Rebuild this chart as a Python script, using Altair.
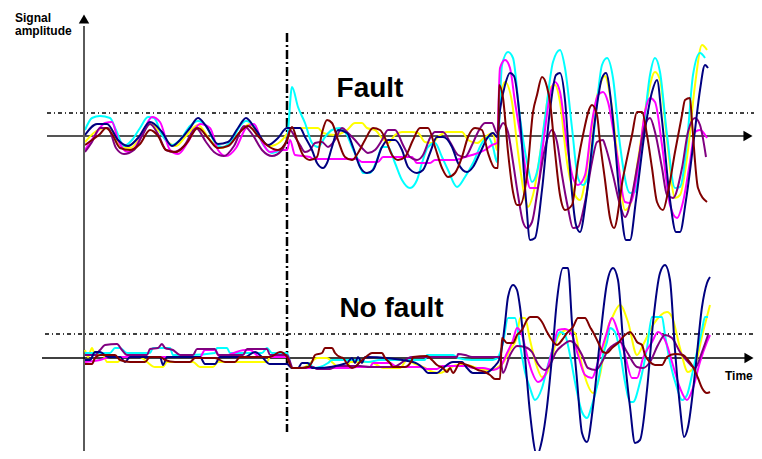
import altair as alt
import pandas as pd

# ---------------- data ----------------
series_names = ["yellow", "cyan", "magenta", "purple", "navy", "maroon"]
series_colors = ["#FFFF00", "#00FFFF", "#FF00FF", "#800080", "#000080", "#800000"]

# (time, amplitude) vertices, FAULT case
fault_navy = [(1,1),(13,12),(23,12),(34,-4),(44,-10),(54,-2),(66,14),(78,4),(88,-10),(96,-4),(106,8),(114,18),(122,10),(134,-8),(144,-6),(154,8),(162,18),(172,6),(184,-9),(194,-2),(203,8),
 (211,8),(216,8),(221,-1),(228,-14),(233,-27),(239,-32),(243,-27),(248,-11),(254,6),(263,3),(269,-11),(276,-31),(283,-37),(289,-34),(298,-11),(304,-4),(311,-4),(318,-14),(324,-31),(333,-37),(339,-34),(346,-17),(353,-1),(359,-1),(368,-11),(374,-27),(383,-36),(389,-31),(396,-17),(404,-1),(409,3),
 (413,-1),(416,26),(421,51),(426,63),(430,60),(436,16),(442,-64),(446,-104),(451,-102),(458,-54),(466,26),(472,61),(476,63),(481,36),(486,-34),(492,-89),(496,-96),(502,-64),(511,16),(518,58),(522,63),(528,26),(536,-64),(542,-104),(546,-104),(552,-64),(561,6),(568,44),(573,56),(578,16),(586,-64),(592,-96),(596,-96),(602,-64),(611,6),(616,46),(621,71),(624,68)]
fault_cyan = [(1,6),(8,18),(16,20),(26,18),(32,6),(40,-10),(48,-4),(56,8),(64,19),(70,18),(78,1),(88,-9),(96,-4),(106,10),(114,15),(122,10),(132,-8),(138,-11),(148,-4),(156,10),(162,15),(170,10),(180,-10),(188,-17),(196,-14),(203,-4),
 (208,49),(214,29),(221,13),(228,-7),(234,-11),(241,-1),(248,6),(256,8),(263,1),(268,-11),(274,-24),(279,-37),(286,-37),(293,-24),(298,-11),(304,-11),(311,-27),(318,-44),(326,-52),(333,-44),(338,-27),(344,-11),(351,-7),(358,-21),(364,-34),(373,-51),(381,-41),(389,-27),(398,-7),(404,-1),(409,-11),(413,-26),
 (418,71),(424,84),(429,78),(436,18),(443,-26),(448,-46),(453,-36),(461,18),(469,74),(476,86),(481,68),(488,8),(494,-42),(499,-49),(506,-32),(513,34),(518,71),(523,78),(529,58),(536,-9),(546,-57),(551,-56),(559,1),(566,61),(571,78),(576,64),(583,1),(591,-52),(596,-51),(603,-6),(609,61),(616,83),(621,78)]
fault_yellow = [(1,-6),(11,4),(21,8),(28,6),(36,-10),(46,-12),(56,-2),(66,12),(74,6),(84,-6),(92,-10),(102,0),(114,11),(126,-4),(136,-12),(146,-8),(156,4),(166,12),(176,-2),(186,-10),(196,-6),(203,2),
 (208,8),(218,8),(234,8),(239,3),(251,1),(263,6),(271,13),(278,13),(283,8),(291,6),(298,-2),(304,-7),(311,1),(318,4),(328,4),(334,3),(341,-6),(348,-7),(354,-1),(363,4),(378,4),(384,-4),(393,-7),(401,-1),(409,3),(413,-14),
 (416,34),(421,54),(428,34),(434,-16),(441,-62),(444,-71),(449,-59),(458,-6),(466,48),(471,51),(476,34),(483,-26),(491,-59),(496,-64),(501,-46),(509,18),(516,51),(521,60),(526,41),(534,-24),(541,-74),(546,-69),(554,-24),(563,36),(571,64),(576,56),(583,-4),(591,-62),(596,-59),(604,-14),(611,51),(618,91),(623,86)]
fault_magenta = [(1,-14),(11,1),(21,13),(28,14),(34,-4),(44,-16),(52,-10),(60,6),(68,19),(76,14),(86,-14),(94,-18),(104,-6),(116,12),(126,8),(134,-14),(142,-20),(152,-12),(162,8),(170,12),(178,-6),(186,-16),(196,-14),(203,-14),
 (206,-4),(211,-19),(226,-21),(229,-23),(273,-23),(278,-26),(294,-26),(299,-21),(328,-21),(333,-27),(346,-27),(351,-24),(371,-24),(381,-21),(388,-19),(401,-14),(408,-9),(413,-7),
 (416,68),(421,76),(426,68),(431,34),(438,-9),(443,-42),(446,-52),(453,-52),(459,-9),(466,41),(471,54),(476,44),(483,-9),(489,-42),(494,-49),(501,-39),(508,14),(514,41),(519,44),(524,34),(533,-19),(541,-66),(546,-67),(553,-39),(561,24),(566,38),(571,34),(578,-9),(586,-69),(593,-82),(599,-66),(606,-26),(611,4),(616,6),(623,-2)]
fault_purple = [(1,-16),(8,-6),(16,8),(24,8),(32,-12),(40,-18),(50,-14),(58,0),(66,12),(74,2),(82,-14),(90,-16),(100,-10),(112,8),(122,-6),(130,-16),(140,-20),(150,-10),(160,10),(168,2),(178,-14),(188,-20),(198,-14),(203,-4),
 (206,6),(211,-1),(216,-9),(221,-16),(226,-14),(231,-7),(238,-6),(244,-11),(251,-4),(258,8),(264,3),(271,-4),(278,-12),(284,-17),(291,-14),(298,-4),(304,6),(311,6),(319,-9),(326,-21),(333,-24),(339,-19),(346,-2),(351,4),(359,4),(366,-6),(374,-19),(381,-21),(388,-9),(394,4),(401,13),(408,13),(413,3),
 (416,8),(419,13),(424,4),(429,-26),(434,-59),(439,-86),(443,-92),(448,-86),(454,-52),(461,-12),(468,6),(473,-6),(478,-39),(484,-72),(489,-92),(494,-91),(501,-66),(508,-26),(513,-6),(519,-4),(521,-9),(529,-39),(536,-69),(541,-81),(548,-59),(554,-26),(561,11),(566,18),(571,4),(578,-32),(583,-59),(589,-62),(598,-32),(604,4),(611,18),(616,11),(622,-21)]
fault_maroon = [(1,-9),(8,-4),(16,2),(22,8),(28,2),(36,-12),(46,-14),(56,-8),(66,6),(74,0),(82,-14),(92,-16),(102,-8),(114,8),(124,-2),(134,-12),(144,-10),(156,4),(164,10),(174,0),(184,-10),(194,-14),(203,-4),
 (208,9),(213,-4),(219,-19),(226,-24),(233,-21),(238,3),(243,16),(248,13),(254,-4),(261,-21),(268,-24),(274,-17),(281,-4),(289,8),(296,6),(301,-2),(308,-19),(314,-24),(321,-21),(329,-4),(336,8),(344,8),(351,-11),(358,-32),(364,-41),(371,-37),(378,-21),(384,-1),(391,8),(398,6),(404,-17),(411,-32),(414,-32),
 (415,51),(419,38),(424,-16),(429,-56),(433,-69),(436,-69),(443,-39),(449,24),(453,41),(458,59),(463,49),(466,34),(471,-16),(476,-59),(481,-74),(488,-69),(494,-26),(499,1),(508,31),(513,21),(516,-6),(521,-44),(526,-82),(530,-92),(539,-42),(548,1),(553,24),(558,24),(563,1),(568,-32),(573,-66),(579,-74),(584,-56),(591,-16),(598,21),(601,36),(606,38),(608,14),(614,-52),(623,-66)]

# NO FAULT case
nofault_navy = [(1,-2),(6,-2),(11,6),(16,6),(24,1),(36,1),(41,-4),(46,1),(76,1),(79,-7),(83,1),(116,1),(121,-6),(131,-6),(136,1),(161,1),(171,6),(178,1),(186,-6),(203,-6),
 (208,-10),(214,-10),(218,-5),(224,-5),(228,-10),(233,-10),(263,-5),(268,0),(271,-5),(274,1),(278,-5),(281,1),(329,-4),(339,-10),(344,-15),(353,-15),(359,-10),(369,-4),(378,-4),(383,-10),(389,-15),(401,-15),(409,-10),(416,0),
 (421,35),(424,61),(429,73),(433,68),(436,51),(441,1),(446,-55),(453,-97),(458,-82),(463,-49),(468,1),(473,58),(479,90),(484,90),(488,35),(493,-22),(498,-75),(503,-84),(509,-49),(516,18),(523,75),(529,90),(534,78),(539,18),(546,-49),(551,-85),(556,-82),(563,-32),(569,35),(576,85),(581,93),(586,78),(591,8),(596,-49),(600,-79),(604,-69),(611,-15),(618,51),(623,75),(626,81)]
nofault_cyan = [(1,5),(26,5),(31,10),(36,10),(43,5),(66,5),(69,10),(86,10),(89,3),(106,3),(131,5),(133,10),(143,10),(146,5),(178,5),(183,10),(188,5),(203,5),
 (208,-10),(223,-10),(226,-5),(229,-10),(236,-9),(244,-5),(248,-2),(254,-2),(263,-2),(271,-2),(284,-4),(296,-2),(326,-2),(341,-2),(343,3),(369,3),(374,0),(388,-2),(409,-2),(414,1),
 (419,15),(424,40),(431,40),(436,13),(441,-14),(446,-30),(451,-42),(458,-30),(464,-7),(471,16),(476,26),(481,23),(486,3),(491,-24),(498,-54),(503,-60),(508,-47),(514,-24),(519,3),(523,16),(526,30),(531,26),(536,6),(541,-24),(546,-44),(549,-44),(556,-24),(563,10),(568,41),(578,41),(581,23),(586,-4),(593,-30),(598,-42),(603,-37),(608,-17),(613,6),(618,28),(621,41),(624,41)]
nofault_yellow = [(1,8),(4,1),(8,10),(11,3),(19,3),(23,-4),(34,-4),(38,1),(56,1),(63,-4),(71,-9),(79,-9),(83,-4),(109,-4),(116,-9),(129,-9),(134,-4),(169,-4),(183,-4),(186,1),(203,1),
 (208,-10),(219,-10),(226,-5),(233,0),(243,0),(249,-5),(256,-10),(263,-10),(266,-4),(286,-4),(293,-7),(299,-10),(316,-10),(323,-2),(329,-5),(339,-9),(349,-14),(356,-15),(363,-12),(373,-7),(383,-7),(393,-10),(403,-12),(409,-12),(414,-9),(419,-5),(426,8),(433,21),
 (436,40),(441,40),(446,18),(453,-9),(458,-19),(463,-15),(468,1),(474,21),(483,28),(491,25),(496,1),(503,-25),(509,-35),(516,-17),(524,31),(528,40),(536,53),(544,36),(553,3),(559,13),(569,33),(583,46),(588,41),(596,10),(604,-14),(611,-7),(619,26),(626,53)]
nofault_magenta = [(1,-4),(16,-2),(26,1),(116,1),(121,8),(131,8),(136,1),(161,8),(166,8),(176,1),(203,1),
 (208,-10),(263,-10),(273,-9),(286,-9),(289,-5),(306,-5),(313,-9),(336,-9),(343,-11),(353,-11),(358,-8),(383,-8),(389,-10),(399,-10),(409,-12),(416,-9),(423,5),(429,18),
 (433,30),(438,23),(443,3),(448,-14),(454,-24),(461,-17),(469,10),(474,28),(481,29),(488,23),(494,3),(501,-17),(508,-20),(514,-4),(519,13),(523,26),(528,40),(534,26),(541,3),(548,-20),(553,-20),(559,0),(568,16),(574,26),(583,13),(588,-4),(596,-30),(603,-42),(609,-30),(616,-4),(623,16),(626,23)]
nofault_purple = [(1,3),(11,3),(16,8),(21,13),(33,14),(38,8),(43,3),(63,3),(66,9),(74,10),(78,14),(81,10),(89,8),(96,3),(109,3),(113,9),(131,9),(134,3),(159,3),(163,9),(183,9),(186,3),(203,3),
 (209,-10),(221,-10),(224,-9),(229,-9),(233,-11),(246,-11),(253,-8),(276,-8),(286,-9),(309,-9),(328,1),(373,1),(374,4),(381,3),(388,1),(416,1),(419,-15),(426,3),
 (433,12),(441,11),(448,6),(454,-6),(461,-12),(466,-7),(472,6),(479,13),(486,17),(492,13),(498,3),(504,-10),(512,-12),(518,-4),(524,8),(531,14),(536,16),(543,6),(553,-9),(559,-10),(566,-4),(574,13),(581,23),(588,20),(596,6),(604,-4),(611,-10),(618,6),(624,23)]
nofault_maroon = [(1,-6),(8,-6),(11,0),(16,3),(31,3),(36,-2),(46,-4),(61,-4),(66,1),(76,1),(81,-2),(91,-4),(106,-4),(111,0),(131,0),(141,-4),(151,-4),(156,1),(186,1),(196,6),(203,1),
 (208,-10),(214,-10),(224,-9),(228,-4),(231,3),(238,5),(241,10),(248,10),(251,5),(256,1),(259,0),(264,-7),(268,-10),(271,-9),(276,-4),(283,2),(288,5),(298,5),(301,0),(306,-5),(309,-9),(321,-9),(328,-2),(329,1),(343,2),(348,-2),(353,-7),(359,-10),(363,-14),(366,-10),(369,-15),(376,-5),(383,-7),(388,-9),(394,-12),(401,-14),(406,-17),(411,-21),(416,-21),
 (418,20),(423,15),(429,15),(433,23),(438,28),(443,38),(446,41),(453,41),(458,36),(463,26),(468,18),(473,13),(478,18),(483,25),(489,31),(494,40),(501,40),(506,31),(509,26),(514,16),(519,6),(523,5),(528,10),(534,15),(541,23),(546,26),(549,23),(553,16),(558,13),(561,3),(566,-4),(571,-7),(578,-7),(583,1),(591,4),(599,3),(604,-2),(609,-9),(614,-20),(618,-30),(623,-35),(626,-34)]

# annotation values
fault_time = [203]
fault_threshold = [23]
nofault_threshold = [24]
labels = ["Fault", "No fault"]

# ---------------- scales ----------------
W, H = 746, 443
x_dom = [-76, -76 + W]
y_fault_dom = [128 - H, 128]
y_nf_dom = [350 - H, 350]

X = lambda f: alt.X(f, scale=alt.Scale(domain=x_dom, nice=False, zero=False), axis=None)
YF = lambda f: alt.Y(f, scale=alt.Scale(domain=y_fault_dom, nice=False, zero=False), axis=None)
YN = lambda f: alt.Y(f, scale=alt.Scale(domain=y_nf_dom, nice=False, zero=False), axis=None)


def frame(groups):
    rows = []
    for name, pts in groups:
        for i, (t, a) in enumerate(pts):
            rows.append({"series": name, "t": t, "a": a, "i": i})
    return pd.DataFrame(rows)


fault_df = frame(list(zip(series_names, [fault_yellow, fault_cyan, fault_magenta, fault_purple, fault_navy, fault_maroon])))
nf_df = frame(list(zip(series_names, [nofault_yellow, nofault_cyan, nofault_magenta, nofault_purple, nofault_navy, nofault_maroon])))

color = alt.Color("series:N", scale=alt.Scale(domain=series_names, range=series_colors), legend=None)

# ---------- fault panel layers ----------
vline = alt.Chart(pd.DataFrame({"t": fault_time, "a": [103], "a2": [-296]})).mark_rule(
    color="black", strokeWidth=2.5, strokeDash=[9, 3, 2, 3]).encode(x=X("t:Q"), y=YF("a:Q"), y2="a2:Q")

yaxis = alt.Chart(pd.DataFrame({"t": [0], "a": [110], "a2": [-330]})).mark_rule(
    color="#5a5a5a", strokeWidth=2).encode(x=X("t:Q"), y=YF("a:Q"), y2="a2:Q")
yarrow = alt.Chart(pd.DataFrame({"t": [0], "a": [117]})).mark_point(
    shape="triangle-up", filled=True, size=110, color="black", opacity=1).encode(x=X("t:Q"), y=YF("a:Q"))

f_base = alt.Chart(pd.DataFrame({"t": [-37], "t2": [664], "a": [0]})).mark_rule(
    color="#555555", strokeWidth=2).encode(x=X("t:Q"), x2="t2:Q", y=YF("a:Q"))
f_arrow = alt.Chart(pd.DataFrame({"t": [664], "a": [0]})).mark_point(
    shape="triangle-right", filled=True, size=110, color="black", opacity=1).encode(x=X("t:Q"), y=YF("a:Q"))
f_thr = alt.Chart(pd.DataFrame({"t": [-37], "t2": [673], "a": fault_threshold})).mark_rule(
    color="black", strokeWidth=1.5, strokeDash=[4, 3, 1, 3]).encode(x=X("t:Q"), x2="t2:Q", y=YF("a:Q"))

f_lines = alt.Chart(fault_df).mark_line(strokeWidth=2, interpolate="monotone").encode(
    x=X("t:Q"), y=YF("a:Q"), color=color, order="i:Q")

f_text = alt.Chart(pd.DataFrame({"t": [286], "a": [39], "txt": [labels[0]]})).mark_text(
    fontSize=28, fontWeight="bold", font="Liberation Sans", align="center", baseline="alphabetic",
    color="black").encode(x=X("t:Q"), y=YF("a:Q"), text="txt:N")

ylabel = alt.Chart(pd.DataFrame({"t": [-69, -69], "a": [114, 101], "txt": ["Signal", "amplitude"]})).mark_text(
    fontSize=12, fontWeight="bold", font="Liberation Sans", align="left", baseline="alphabetic",
    color="black").encode(x=X("t:Q"), y=YF("a:Q"), text="txt:N")

fault_panel = alt.layer(vline, f_thr, f_base, f_arrow, f_lines, yaxis, yarrow, f_text, ylabel)

# ---------- no-fault panel layers ----------
n_base = alt.Chart(pd.DataFrame({"t": [-42], "t2": [664], "a": [0]})).mark_rule(
    color="black", strokeWidth=1.5).encode(x=X("t:Q"), x2="t2:Q", y=YN("a:Q"))
n_arrow = alt.Chart(pd.DataFrame({"t": [665], "a": [0]})).mark_point(
    shape="triangle-right", filled=True, size=110, color="black", opacity=1).encode(x=X("t:Q"), y=YN("a:Q"))
n_thr = alt.Chart(pd.DataFrame({"t": [-39], "t2": [671], "a": nofault_threshold})).mark_rule(
    color="black", strokeWidth=1.5, strokeDash=[4, 3, 1, 3]).encode(x=X("t:Q"), x2="t2:Q", y=YN("a:Q"))
n_lines = alt.Chart(nf_df).mark_line(strokeWidth=2, interpolate="monotone").encode(
    x=X("t:Q"), y=YN("a:Q"), color=color, order="i:Q")
n_text = alt.Chart(pd.DataFrame({"t": [307.5], "a": [41], "txt": [labels[1]]})).mark_text(
    fontSize=28, fontWeight="bold", font="Liberation Sans", align="center", baseline="alphabetic",
    color="black").encode(x=X("t:Q"), y=YN("a:Q"), text="txt:N")
time_label = alt.Chart(pd.DataFrame({"t": [641], "a": [-22], "txt": ["Time"]})).mark_text(
    fontSize=12, fontWeight="bold", font="Liberation Sans", align="left", baseline="alphabetic",
    color="black").encode(x=X("t:Q"), y=YN("a:Q"), text="txt:N")

nofault_panel = alt.layer(n_thr, n_base, n_arrow, n_lines, n_text, time_label)

chart = alt.layer(fault_panel, nofault_panel).resolve_scale(y="independent").properties(
    width=W, height=H, padding=0, autosize=alt.AutoSizeParams(type="none")
).configure_view(strokeWidth=0)

chart.save("out.html", embed_options={"renderer": "svg", "actions": False})
